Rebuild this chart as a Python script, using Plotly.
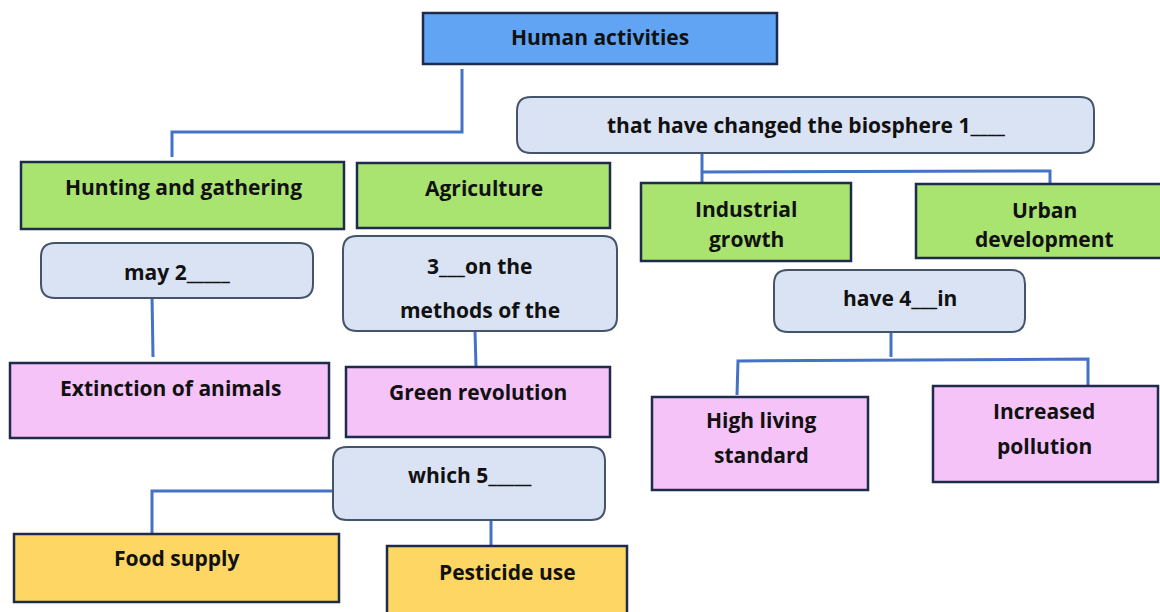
import plotly.graph_objects as go

# ---- content ----
labels = [
    "Human activities",
    "that have changed the biosphere 1____",
    "Hunting and gathering",
    "Agriculture",
    "Industrial<br>growth",
    "Urban<br>development",
    "may 2_____",
    "3___on the<br>methods of the",
    "have 4___in",
    "Extinction of animals",
    "Green revolution",
    "High living<br>standard",
    "Increased<br>pollution",
    "which 5_____",
    "Food supply",
    "Pesticide use",
]
kinds = ["root", "link", "cat", "cat", "cat", "cat", "link", "link", "link",
         "effect", "effect", "effect", "effect", "link", "result", "result"]

# ---- layout geometry (pixels: x0, y0, x1, y1), text anchor, line gap ----
boxes = [
    (423, 13, 777, 64), (517, 97, 1094, 153), (21, 162, 344, 229), (357, 163, 610, 228),
    (641, 183, 851, 261), (916, 184, 1166, 258), (41, 243, 313, 298), (343, 236, 617, 331),
    (774, 270, 1025, 332), (10, 363, 329, 438), (346, 367, 610, 437), (652, 397, 868, 490),
    (933, 386, 1158, 482), (333, 447, 605, 520), (14, 534, 339, 602), (387, 546, 627, 614),
]
text_x = [600, 806, 183, 484, 746, 1044, 177, 480, 900, 170, 478, 761, 1044, 470, 177, 507]
text_y = [37, 125, 187, 188, 209, 210, 272, 266, 298, 388, 392, 420, 411, 475, 558, 572]
line_gap = [0, 0, 0, 0, 30, 29, 0, 44, 0, 0, 0, 35, 35, 0, 0, 0]
connectors = [
    [(462, 69), (462, 132), (172, 132), (172, 157)],
    [(702, 153), (702, 183)],
    [(702, 172), (1050, 171), (1050, 184)],
    [(152, 295), (153, 357)],
    [(475, 331), (476, 367)],
    [(891, 327), (891, 357)],
    [(737, 395), (738, 361), (1088, 359), (1088, 388)],
    [(152, 534), (152, 491), (340, 491)],
    [(491, 515), (491, 546)],
]
style = {
    "root":   dict(fill="#62A4F4", line="#1E2B4A", rounded=False),
    "link":   dict(fill="#DAE3F3", line="#44546A", rounded=True),
    "cat":    dict(fill="#A9E370", line="#1E2B4A", rounded=False),
    "effect": dict(fill="#F5C3F8", line="#1E2B4A", rounded=False),
    "result": dict(fill="#FDD663", line="#1E2B4A", rounded=False),
}


def rounded_path(x0, y0, x1, y1, r=14):
    return (f"M {x0+r},{y0} L {x1-r},{y0} Q {x1},{y0} {x1},{y0+r} "
            f"L {x1},{y1-r} Q {x1},{y1} {x1-r},{y1} L {x0+r},{y1} "
            f"Q {x0},{y1} {x0},{y1-r} L {x0},{y0+r} Q {x0},{y0} {x0+r},{y0} Z")


fig = go.Figure()
shapes = []
annotations = []

for pts in connectors:
    path = "M " + " L ".join(f"{x},{y}" for x, y in pts)
    shapes.append(dict(type="path", path=path, xref="x", yref="y",
                       line=dict(color="#4472C4", width=3), layer="below"))

for lab, kind, (x0, y0, x1, y1), tx, ty, gap in zip(labels, kinds, boxes, text_x, text_y, line_gap):
    st = style[kind]
    if st["rounded"]:
        shapes.append(dict(type="path", path=rounded_path(x0, y0, x1, y1), xref="x", yref="y",
                           fillcolor=st["fill"], line=dict(color=st["line"], width=2)))
    else:
        shapes.append(dict(type="rect", x0=x0, y0=y0, x1=x1, y1=y1, xref="x", yref="y",
                           fillcolor=st["fill"], line=dict(color=st["line"], width=2.5)))
    for i, part in enumerate(lab.split("<br>")):
        annotations.append(dict(x=tx, y=ty + i * gap,
                                xref="x", yref="y", text=f"<b>{part}</b>", showarrow=False,
                                font=dict(family="Open Sans", size=21, color="#111111"),
                                align="center", yanchor="middle"))

fig.add_trace(go.Scatter(x=[0, 1160], y=[0, 612], mode="markers",
                         marker=dict(opacity=0), hoverinfo="skip", showlegend=False))

fig.update_layout(
    width=1160, height=612, margin=dict(l=0, r=0, t=0, b=0),
    paper_bgcolor="white", plot_bgcolor="white",
    xaxis=dict(range=[0, 1160], visible=False, fixedrange=True),
    yaxis=dict(range=[612, 0], visible=False, fixedrange=True),
    shapes=shapes, annotations=annotations, showlegend=False,
)
fig.write_html("out.html", config={"displayModeBar": False},
               post_script="document.body.style.margin='0';document.body.style.overflow='hidden';")
